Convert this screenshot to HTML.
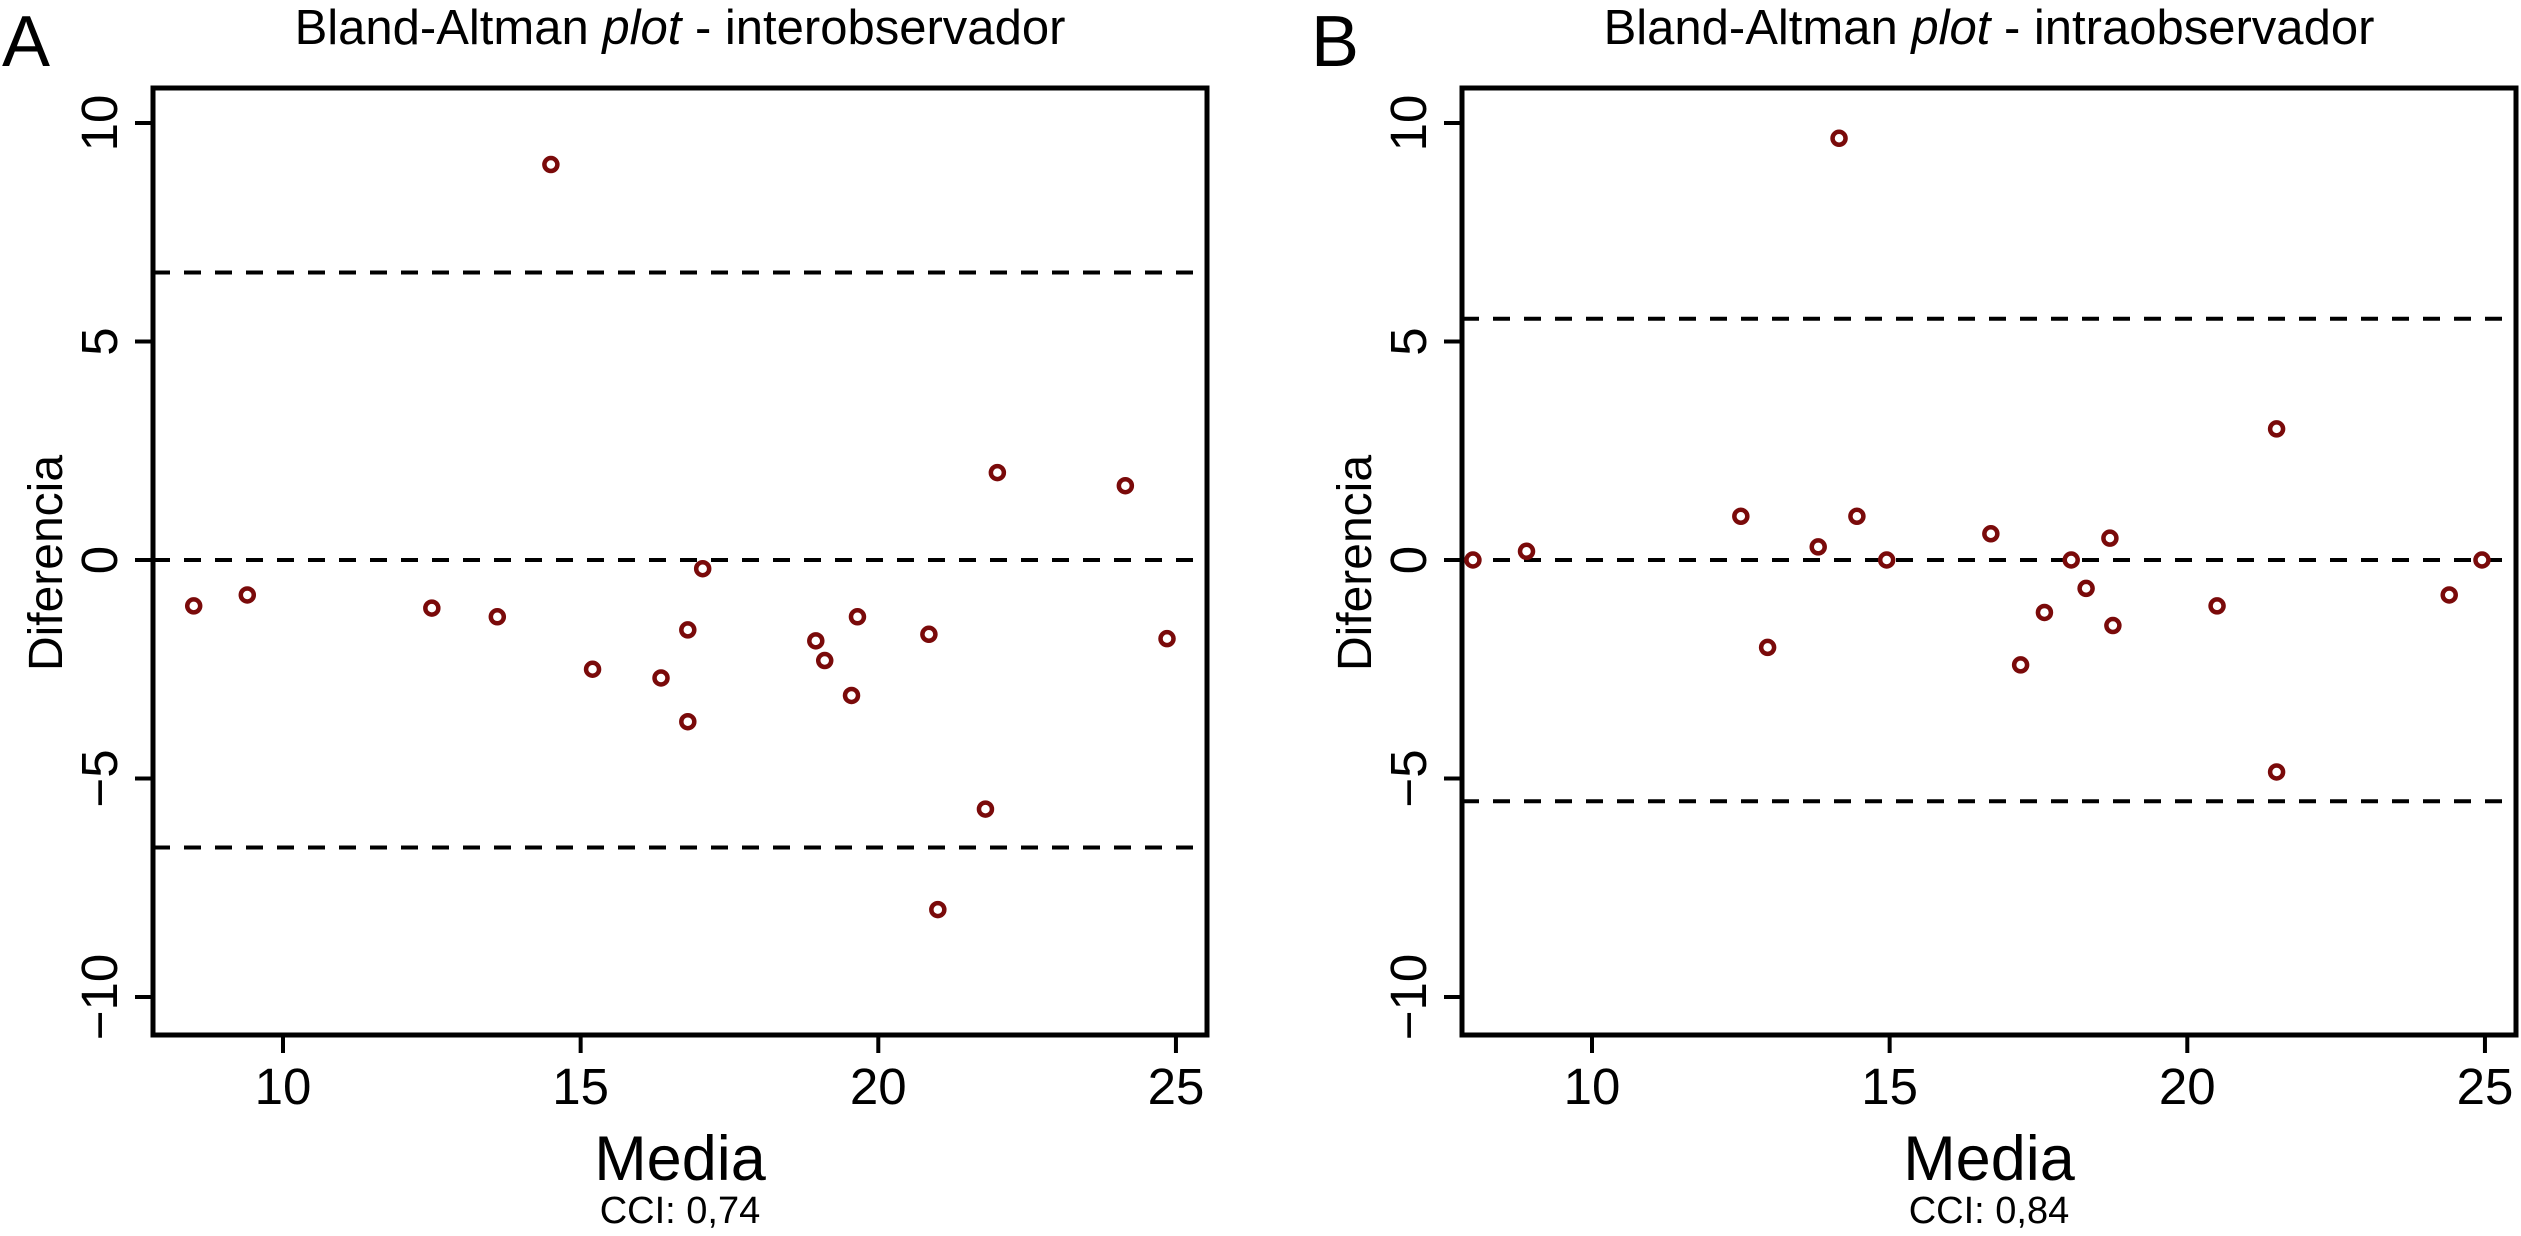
<!DOCTYPE html>
<html><head><meta charset="utf-8"><style>
html,body{margin:0;padding:0;background:#fff;}
svg{display:block;font-family:"Liberation Sans",Arial,sans-serif;}
</style></head><body>
<svg id="chart" width="2521" height="1236" viewBox="0 0 2521 1236" xmlns="http://www.w3.org/2000/svg"></svg>
<script>
const xTicks=[10,15,20,25];
const yTicks=[-10,-5,0,5,10];
const xA=[8.5,9.4,12.5,13.6,14.5,15.2,16.35,16.8,16.8,17.05,18.95,19.1,19.55,19.65,20.85,21.0,21.8,22.0,24.15,24.85];
const yA=[-1.05,-0.8,-1.1,-1.3,9.05,-2.5,-2.7,-1.6,-3.7,-0.2,-1.85,-2.3,-3.1,-1.3,-1.7,-8.0,-5.7,2.0,1.7,-1.8];
const xB=[8.0,8.9,12.5,12.95,13.8,14.15,14.45,14.95,16.7,17.2,17.6,18.05,18.3,18.7,18.75,20.5,21.5,21.5,24.4,24.95];
const yB=[0,0.2,1.0,-2.0,0.3,9.65,1.0,0,0.6,-2.4,-1.2,0,-0.65,0.5,-1.5,-1.05,3.0,-4.85,-0.8,0];
const linesA=[6.58,0,-6.58];
const linesB=[5.52,0,-5.52];
const NS="http://www.w3.org/2000/svg";
const svg=document.getElementById('chart');
function mk(tag,attrs,parent){const e=document.createElementNS(NS,tag);for(const k in attrs)e.setAttribute(k,attrs[k]);(parent||svg).appendChild(e);return e;}
function panel(off,letter,sub,cci,xs,ys,lines){
  const g=mk('g',{});
  
  
  const L=153+off,R=1207+off,T=88,B=1035;
  const sx=v=>283+off+(v-10)*59.53;
  const sy=v=>560-v*43.7;
  const lt=mk('text',{x:off+2,y:66,'font-size':72},g);lt.textContent=letter;
  
  
  const t=mk('text',{x:(L+R)/2,y:44,'font-size':49,'text-anchor':'middle'},g);
  
  
  t.innerHTML='Bland-Altman <tspan font-style="italic">plot</tspan> - '+sub;
  for(const v of lines){
    const l=mk('line',{x1:L,x2:R,y1:sy(v),y2:sy(v),stroke:'#000','stroke-width':4,'stroke-dasharray':'17 14'},g);
    
    
  }
  const box=mk('rect',{x:L,y:T,width:R-L,height:B-T,fill:'none',stroke:'#000','stroke-width':5},g);
  
  
  for(const v of xTicks){
    const tk=mk('line',{x1:sx(v),x2:sx(v),y1:B,y2:B+18,stroke:'#000','stroke-width':4},g);
    
    
    const tl=mk('text',{x:sx(v),y:1104,'font-size':51,'text-anchor':'middle'},g);tl.textContent=v;
    
    
  }
  for(const v of yTicks){
    const tk=mk('line',{x1:L-18,x2:L,y1:sy(v),y2:sy(v),stroke:'#000','stroke-width':4},g);
    
    
    const tl=mk('text',{x:0,y:0,'font-size':51,'text-anchor':'middle',transform:`translate(${off+117},${sy(v)}) rotate(-90)`},g);
    tl.textContent=v<0?'\u2212'+(-v):String(v);
    
    
  }
  const yt=mk('text',{x:0,y:0,'font-size':48,'text-anchor':'middle',transform:`translate(${off+62},563) rotate(-90)`},g);
  yt.textContent='Diferencia';
  
  
  const xt=mk('text',{x:(L+R)/2,y:1180,'font-size':63,'text-anchor':'middle'},g);
  xt.textContent='Media';
  
  
  const cc=mk('text',{x:(L+R)/2,y:1223,'font-size':38,'text-anchor':'middle'},g);
  cc.textContent='CCI: '+cci;
  
  
  for(let i=0;i<xs.length;i++){
    const c=mk('circle',{cx:sx(xs[i]),cy:sy(ys[i]),r:6.5,fill:'#fff',stroke:'#7a0a0a','stroke-width':4.5},g);
    
    
  }
}
panel(0,'A','interobservador','0,74',xA,yA,linesA);
panel(1309,'B','intraobservador','0,84',xB,yB,linesB);
</script>
</body></html>
